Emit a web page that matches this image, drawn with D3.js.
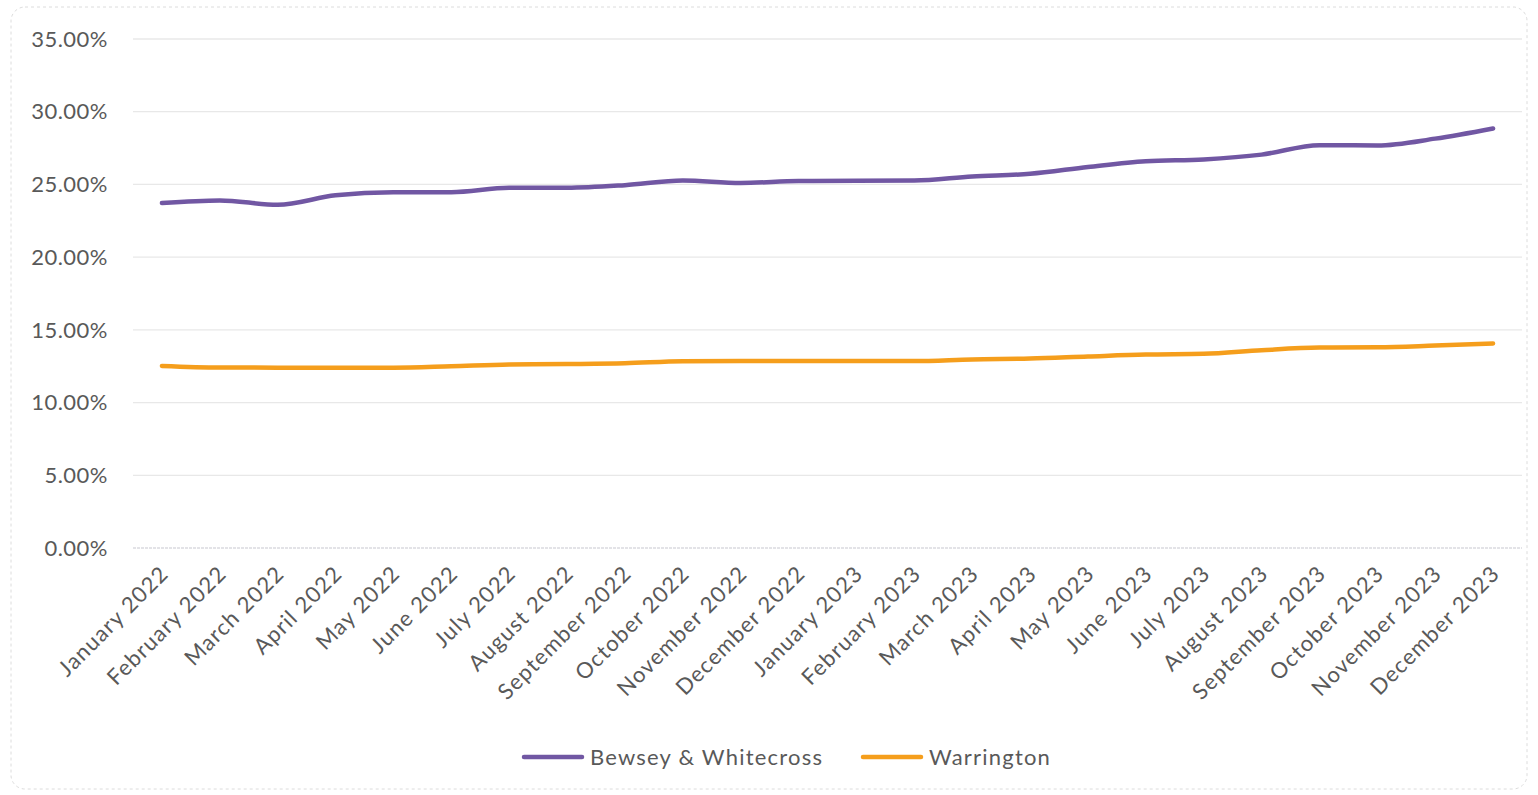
<!DOCTYPE html>
<html><head><meta charset="utf-8">
<script src="https://cdn.jsdelivr.net/npm/d3@7"></script>
<style>
html,body{margin:0;padding:0;background:#fff;}
svg{display:block;}
</style></head>
<body>
<svg id="chart" width="1538" height="795"></svg>
<script>
const categories = ["January 2022","February 2022","March 2022","April 2022","May 2022","June 2022","July 2022","August 2022","September 2022","October 2022","November 2022","December 2022","January 2023","February 2023","March 2023","April 2023","May 2023","June 2023","July 2023","August 2023","September 2023","October 2023","November 2023","December 2023"];
const bewsey = [23.72,23.9,23.6,24.25,24.47,24.47,24.77,24.77,24.95,25.27,25.1,25.23,25.25,25.27,25.55,25.73,26.2,26.6,26.72,27.05,27.7,27.68,28.15,28.85];
const warrington = [12.52,12.41,12.4,12.4,12.4,12.5,12.62,12.65,12.7,12.84,12.85,12.85,12.85,12.85,12.97,13.03,13.17,13.3,13.35,13.6,13.78,13.8,13.92,14.06];
const yTicks = [0,5,10,15,20,25,30,35];
const seriesNames = ["Bewsey & Whitecross","Warrington"];
const seriesColors = ["#7157a3","#f59e1c"];

(function(){
const svg = d3.select("#chart");
const font = "Lato, 'Open Sans', sans-serif";
const textColor = "#595959";
const pl = 133, pr = 1522, pt = 39, pb = 548;

// border
svg.append("rect").attr("x",11).attr("y",7).attr("width",1516).attr("height",782)
  .attr("rx",14).attr("fill","none").attr("stroke","#dcdcdc").attr("stroke-width",1)
  .attr("stroke-dasharray","3,3");

const x = d3.scaleBand().domain(categories).range([pl,pr]);
const y = d3.scaleLinear().domain([0,35]).range([pb,pt]);

// gridlines
svg.append("g").selectAll("line").data(yTicks.filter(t=>t>0)).join("line")
  .attr("x1",pl).attr("x2",pr).attr("y1",d=>y(d)).attr("y2",d=>y(d))
  .attr("stroke","#e8e8e8").attr("stroke-width",1.3);
// zero axis
svg.append("line").attr("x1",pl).attr("x2",pr).attr("y1",y(0)).attr("y2",y(0))
  .attr("stroke","#c8c8d0").attr("stroke-width",1.2).attr("stroke-dasharray","3,1");

// y labels
svg.append("g").selectAll("text").data(yTicks).join("text")
  .attr("x",108).attr("y",d=>y(d)).attr("dy","0.35em")
  .attr("text-anchor","end").attr("font-family",font).attr("font-size",22)
  .attr("letter-spacing",0.5)
  .attr("fill",textColor).text(d=>d.toFixed(2)+"%");

// x labels
svg.append("g").selectAll("text").data(categories).join("text")
  .attr("transform",d=>`translate(${x(d)+x.bandwidth()/2+8},${pb+27}) rotate(-45)`)
  .attr("text-anchor","end").attr("font-family",font).attr("font-size",22)
  .attr("letter-spacing",1.2)
  .attr("fill",textColor).text(d=>d);

// lines
const line = d3.line().x((d,i)=>x(categories[i])+x.bandwidth()/2).y(d=>y(d)).curve(d3.curveMonotoneX);
[bewsey,warrington].forEach((s,k)=>{
  svg.append("path").datum(s).attr("d",line).attr("fill","none")
    .attr("stroke",seriesColors[k]).attr("stroke-width",4.5).attr("stroke-linecap","round")
    .attr("stroke-linejoin","round");
});

// legend
const legendX = [524,863];
seriesNames.forEach((n,k)=>{
  const g = svg.append("g");
  g.append("line").attr("x1",legendX[k]).attr("x2",legendX[k]+58).attr("y1",757).attr("y2",757)
    .attr("stroke",seriesColors[k]).attr("stroke-width",4.5).attr("stroke-linecap","round");
  g.append("text").attr("x",legendX[k]+66).attr("y",757).attr("dy","0.35em")
    .attr("font-family",font).attr("font-size",22).attr("letter-spacing",1.2)
    .attr("fill",textColor).text(n);
});
})();
</script>
</body></html>
